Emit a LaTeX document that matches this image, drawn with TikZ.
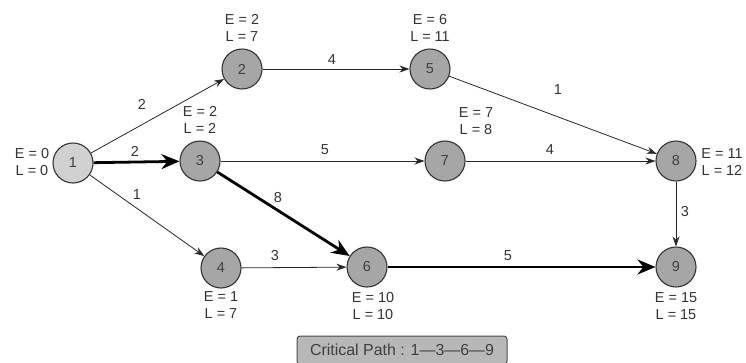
\documentclass[tikz,border=0pt]{standalone}
\usepackage{fontspec}
\setmainfont{Liberation Sans}
\usetikzlibrary{arrows.meta,positioning}
\begin{document}
\begin{tikzpicture}[x=1bp,y=-1bp,
  ev/.style={circle,draw=black!80,line width=1.1pt,minimum size=40bp,inner sep=0pt,fill=black!35,font=\fontsize{14.5}{14.5}\selectfont,text=black!75},
  evs/.style={ev,fill=black!18},
  info/.style={align=center,font=\fontsize{14.5}{16.5}\selectfont,text=black!80,inner sep=0pt},
  lab/.style={font=\fontsize{14.5}{14.5}\selectfont,text=black!80,inner sep=0pt},
  act/.style={draw=black!85,line width=0.8pt,-{Stealth[length=10bp,width=7bp]}},
  crit/.style={draw=black,line width=2.8pt,-{Stealth[length=18bp,width=15bp]}}]
\useasboundingbox (0,0) rectangle (746,362);
\node[evs] (n1) at (73,163) {1};
\node[ev] (n2) at (242,69) {2};
\node[ev] (n3) at (200,161) {3};
\node[ev] (n4) at (221,268) {4};
\node[ev] (n5) at (430,69) {5};
\node[ev] (n6) at (367,267) {6};
\node[ev] (n7) at (445,161) {7};
\node[ev] (n8) at (676,161) {8};
\node[ev] (n9) at (676,267) {9};
\node[info] (i1) at (32,162) {E = 0\\L = 0};
\node[info] (i2) at (242,28) {E = 2\\L = 7};
\node[info] (i3) at (200,120) {E = 2\\L = 2};
\node[info] (i4) at (221,305) {E = 1\\L = 7};
\node[info] (i5) at (430,28) {E = 6\\L = 11};
\node[info] (i6) at (373,306) {E = 10\\L = 10};
\node[info] (i7) at (476,121) {E = 7\\L = 8};
\node[info] (i8) at (722,162) {E = 11\\L = 12};
\node[info] (i9) at (676,306) {E = 15\\L = 15};
\draw[act] (n1) -- (n2);
\draw[crit] (n1) -- (n3);
\draw[act] (n1) -- (n4);
\draw[act] (n2) -- (n5);
\draw[act] (n3) -- (n7);
\draw[crit] (n3) -- (n6);
\draw[act] (n4) -- (n6);
\draw[act] (n5) -- (n8);
\draw[act] (n7) -- (n8);
\draw[act] (n8) -- (n9);
\draw[crit] (n6) -- (n9);
\node[lab] (l12) at (142,104) {2};
\node[lab] (l13) at (135,151) {2};
\node[lab] (l14) at (137,195) {1};
\node[lab] (l25) at (332,60) {4};
\node[lab] (l37) at (325,150) {5};
\node[lab] (l36) at (278,198) {8};
\node[lab] (l46) at (275,256) {3};
\node[lab] (l58) at (558,90) {1};
\node[lab] (l78) at (550,150) {4};
\node[lab] (l89) at (685,212) {3};
\node[lab] (l69) at (508,256) {5};
\node[draw=black!70,line width=1pt,fill=black!28,rounded corners=3bp,minimum width=210bp,minimum height=28bp,font=\fontsize{16}{16}\selectfont,text=black!75] (cp) at (402,350) {Critical Path : 1—3—6—9};
\end{tikzpicture}
\end{document}
